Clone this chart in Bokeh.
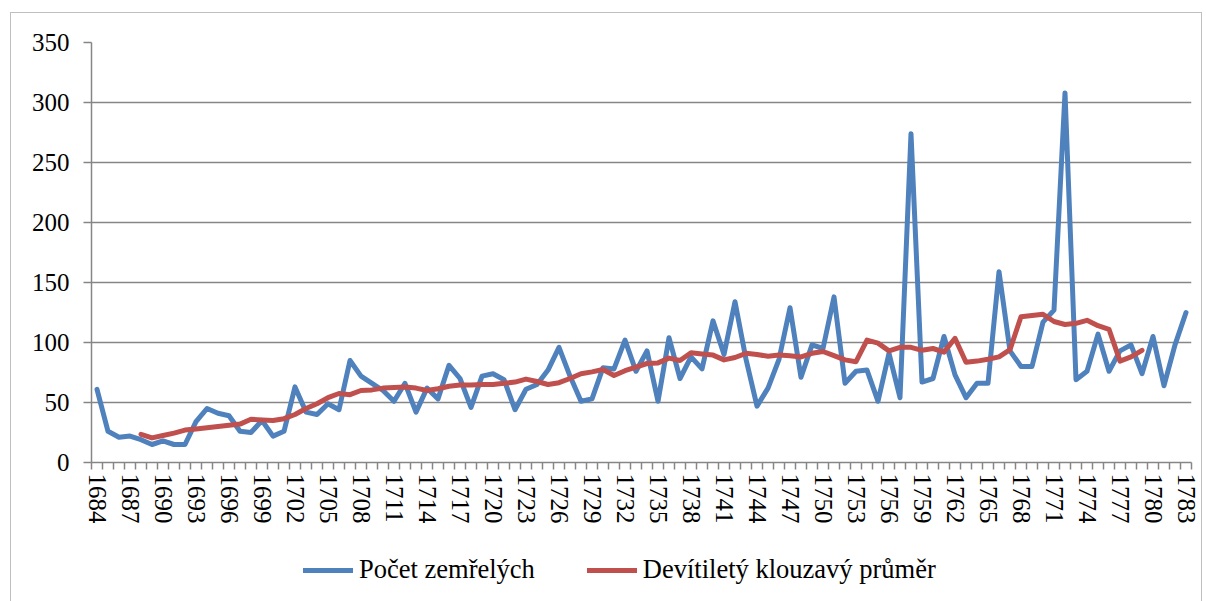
from bokeh.plotting import figure
from bokeh.models import FixedTicker, Legend, LegendItem, Range1d
from bokeh.layouts import column
from bokeh.embed import file_html
from bokeh.resources import INLINE

years = list(range(1684, 1784))
deaths = [61, 26, 21, 22, 19, 15, 18, 15, 15, 34,
          45, 41, 39, 26, 25, 35, 22, 26, 63, 42,
          40, 49, 44, 85, 72, 66, 60, 51, 66, 42,
          62, 53, 81, 70, 46, 72, 74, 69, 44, 61,
          65, 77, 96, 72, 51, 53, 79, 78, 102, 76,
          93, 51, 104, 70, 88, 78, 118, 90, 134, 86,
          47, 62, 86, 129, 71, 98, 95, 138, 66, 76,
          77, 51, 91, 54, 274, 67, 70, 105, 73, 54,
          66, 66, 159, 93, 80, 80, 117, 127, 308, 69,
          76, 107, 76, 93, 98, 74, 105, 64, 98, 125]

ma_years = list(range(1688, 1780))
moving_avg = [23.5, 20.5, 22.5, 24.5, 27, 28, 29, 30, 31, 32, 36, 35.5,
              35, 36.5, 40, 45, 49, 54, 57.5, 56.5, 60, 60.5,
              62, 62.5, 63, 62, 60, 61.5, 63.5, 64.5, 64.5, 65,
              65, 66, 67, 69.5, 67.5, 65, 66.5, 70, 74, 75.5,
              77.5, 72.5, 76.5, 79.5, 82.5, 83, 87, 85, 91.5, 90.5,
              89.5, 85.5, 87.5, 91, 90, 88.5, 89.5, 89, 88, 91,
              92.5, 89, 85.5, 84, 102, 99.5, 93, 96, 96, 93.5,
              95, 92, 103.5, 83.5, 84.5, 86, 88, 94, 121.5, 122.5,
              123.5, 117.5, 115, 116, 118.5, 114, 111, 84.5, 88, 93.5]

x_label_years = years[::3]
y_ticks = [0, 50, 100, 150, 200, 250, 300, 350]
series_names = ["Počet zemřelých", "Devítiletý klouzavý průměr"]

FONT = "Liberation Serif"
GRID = "#868686"
BLUE = "#4F81BD"
RED = "#C0504D"

p = figure(width=1190, height=519, output_backend="svg", toolbar_location=None,
           x_range=Range1d(years[0] - 0.5, years[-1] + 0.5),
           y_range=Range1d(0, 350),
           min_border_left=80, min_border_right=10, min_border_top=29, min_border_bottom=70)
p.outline_line_color = None
p.background_fill_color = "white"
p.border_fill_color = "white"

# y axis
p.yaxis.ticker = FixedTicker(ticks=y_ticks)
p.yaxis.axis_line_color = GRID
p.yaxis.axis_line_width = 1.5
p.yaxis.major_tick_line_color = GRID
p.yaxis.major_tick_line_width = 1.5
p.yaxis.major_tick_out = 8
p.yaxis.major_tick_in = 0
p.yaxis.minor_tick_line_color = None
p.yaxis.major_label_text_font = FONT
p.yaxis.major_label_text_font_size = "25px"
p.yaxis.major_label_text_color = "black"
p.yaxis.major_label_standoff = 14

# x axis
p.xaxis.ticker = FixedTicker(ticks=x_label_years,
                             minor_ticks=[y - 0.5 for y in years] + [years[-1] + 0.5])
p.xaxis.axis_line_color = GRID
p.xaxis.axis_line_width = 1.5
p.xaxis.major_tick_line_color = None
p.xaxis.minor_tick_line_color = GRID
p.xaxis.minor_tick_line_width = 1.5
p.xaxis.minor_tick_out = 7
p.xaxis.minor_tick_in = 0
p.xaxis.major_label_orientation = "vertical"
p.xaxis.major_label_text_font = FONT
p.xaxis.major_label_text_font_size = "25px"
p.xaxis.major_label_text_color = "black"
p.xaxis.major_label_standoff = 4

# grid
p.xgrid.grid_line_color = None
p.ygrid.ticker = FixedTicker(ticks=y_ticks)
p.ygrid.grid_line_color = GRID
p.ygrid.grid_line_width = 1.5

p.line(years, deaths, line_color=BLUE, line_width=5,
       line_join="round", line_cap="round")
p.line(ma_years, moving_avg, line_color=RED, line_width=5,
       line_join="round", line_cap="round")

# legend strip below the chart (its sample lines lie outside the visible range)
q = figure(width=1190, height=69, output_backend="svg", toolbar_location=None,
           x_range=Range1d(0, 1), y_range=Range1d(0, 1),
           x_axis_location=None, y_axis_location=None,
           min_border_left=0, min_border_right=0, min_border_top=0, min_border_bottom=0)
q.grid.grid_line_color = None
q.outline_line_color = None
q.background_fill_color = "white"
q.border_fill_color = "white"
l1 = q.line([-5, -4], [-5, -4], line_color=BLUE, line_width=5, line_cap="round")
l2 = q.line([-5, -4], [-5, -4], line_color=RED, line_width=5, line_cap="round")

legend = Legend(items=[LegendItem(label=series_names[0], renderers=[l1]),
                       LegendItem(label=series_names[1], renderers=[l2])],
                orientation="horizontal", location=(212, 16),
                label_text_font=FONT, label_text_font_size="26.5px",
                label_text_color="black",
                glyph_width=50, label_standoff=6, spacing=52,
                border_line_color=None, background_fill_alpha=0,
                margin=0, padding=4)
q.add_layout(legend)

layout = column(p, q, spacing=0, margin=(12, 0, 0, 10),
                styles={"border": "1px solid #bfbfbf"})

open("out.html", "w").write(file_html(layout, INLINE))
